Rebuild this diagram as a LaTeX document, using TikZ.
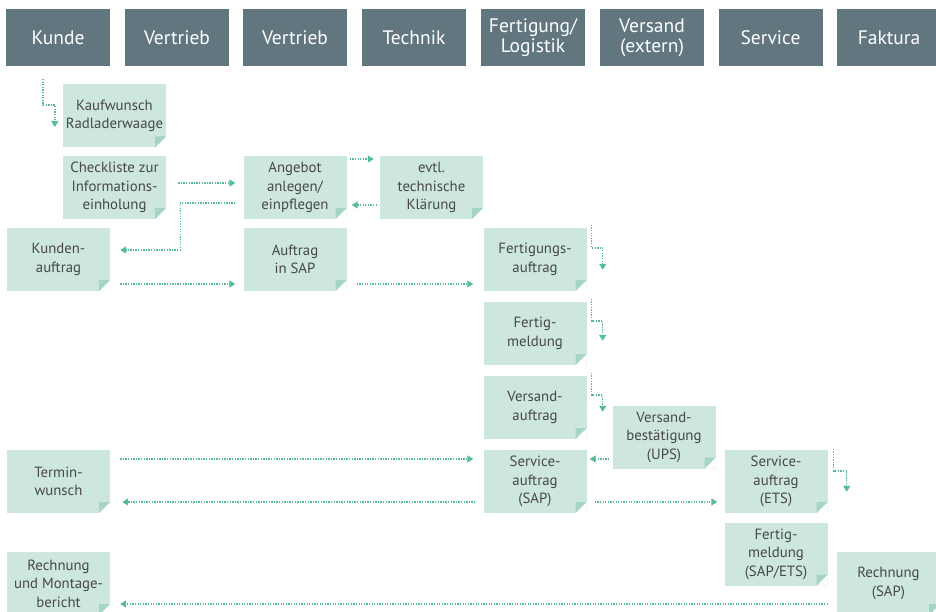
\documentclass[tikz,border=0pt]{standalone}
\usepackage{fontspec}
\setmainfont{PT Sans}
\usetikzlibrary{arrows.meta,calc}
\definecolor{headc}{HTML}{61767F}
\definecolor{boxc}{HTML}{CDE7DF}
\definecolor{foldc}{HTML}{A6D4C6}
\definecolor{flowc}{HTML}{55BB9F}
\definecolor{txtc}{HTML}{484848}
\begin{document}
\begin{tikzpicture}[x=1pt,y=-1pt,
 head/.style={fill=headc, text=white, minimum width=104pt, minimum height=57pt, inner sep=0pt, align=center, font=\fontsize{19.5}{20}\selectfont},
 note/.style={fill=boxc, text=txtc, minimum width=103pt, minimum height=63pt, inner sep=0pt, align=center, font=\fontsize{14.8}{18.5}\selectfont,
   path picture={
     \coordinate (pse) at (path picture bounding box.south east);
     \fill[white] ($(pse)+(-11pt,0pt)$) -- (pse) -- ($(pse)+(0pt,11pt)$) -- cycle;
     \fill[foldc] ($(pse)+(-11pt,0pt)$) -- ($(pse)+(-11pt,11pt)$) -- ($(pse)+(0pt,11pt)$) -- cycle;}},
 flow/.style={draw=flowc, line width=1.4pt, dash pattern=on 1.3pt off 1.3pt, -{Triangle[length=6pt,width=7pt]}}]
\useasboundingbox (0,0) rectangle (936,612);
\fill[white] (0,0) rectangle (936,612);
% headers
\node[head] (h1) at (58,37.5) {Kunde};
\node[head] (h2) at (177,37.5) {Vertrieb};
\node[head] (h3) at (295,37.5) {Vertrieb};
\node[head] (h4) at (414,37.5) {Technik};
\node[head] (h5) at (533,37.5) {Fertigung/\\Logistik};
\node[head] (h6) at (652,37.5) {Versand\\(extern)};
\node[head] (h7) at (770.5,37.5) {Service};
\node[head] (h8) at (889,37.5) {Faktura};
% notes
\node[note] (kauf) at (114.5,116) {Kaufwunsch\\Radladerwaage};
\node[note] (check) at (114.5,187.5) {Checkliste zur\\Informations-\\einholung};
\node[note] (kunden) at (58.5,259.5) {Kunden-\\auftrag};
\node[note] (angebot) at (295,187.5) {Angebot\\anlegen/\\einpflegen};
\node[note] (evtl) at (431.5,187.5) {evtl.\\technische\\Klärung};
\node[note] (auftrag) at (295,259.5) {Auftrag\\in SAP};
\node[note] (fertA) at (535,259.5) {Fertigungs-\\auftrag};
\node[note] (fertM) at (535,333.5) {Fertig-\\meldung};
\node[note] (versA) at (535,407.5) {Versand-\\auftrag};
\node[note] (versB) at (664,437) {Versand-\\bestätigung\\(UPS)};
\node[note] (servSAP) at (535,481.5) {Service-\\auftrag\\(SAP)};
\node[note] (servETS) at (776,481.5) {Service-\\auftrag\\(ETS)};
\node[note] (fertSE) at (776,554) {Fertig-\\meldung\\(SAP/ETS)};
\node[note] (termin) at (58.5,481.5) {Termin-\\wunsch};
\node[note] (rechM) at (58.5,583.5) {Rechnung\\und Montage-\\bericht};
\node[note] (rechS) at (888.5,583.5) {Rechnung\\(SAP)};
% connectors
\coordinate (s0) at (43,79);
\draw[flow] (s0) |- ([xshift=-8pt,yshift=11pt]kauf.west) -- ++(0,22);
\draw[flow] ([xshift=12pt,yshift=4.5pt]check.east) -- ([xshift=-8pt,yshift=4.5pt]angebot.west);
\draw[flow] ([xshift=-8pt,yshift=-15.5pt]angebot.west) -- ++(-55pt,0) |- ([xshift=10pt,yshift=9.5pt]kunden.east);
\draw[flow] ([xshift=10pt,yshift=-24.5pt]kunden.east) -- ([xshift=-8pt,yshift=-24.5pt]auftrag.west);
\draw[flow] ([xshift=3pt,yshift=28.5pt]angebot.east) -- ([xshift=-6pt,yshift=28.5pt]evtl.west);
\draw[flow] ([xshift=-3pt,yshift=-17.5pt]evtl.west) -- ([xshift=5pt,yshift=-17.5pt]angebot.east);
\draw[flow] ([xshift=10pt,yshift=-24.5pt]auftrag.east) -- ([xshift=-10pt,yshift=-24.5pt]fertA.west);
\draw[flow] ([xshift=5pt,yshift=3pt]fertA.north east) -- ++(0,23) -- ++(11,0) -- ++(0,22);
\draw[flow] ([xshift=5pt,yshift=3pt]fertM.north east) -- ++(0,22) -- ++(11,0) -- ++(0,20);
\draw[flow] ([xshift=5pt,yshift=3pt]versA.north east) -- ++(0,22) -- ++(11,0) -- ++(0,17);
\draw[flow] ([xshift=-3pt,yshift=-22pt]versB.west) -- ([xshift=3pt,yshift=22.5pt]servSAP.east);
\draw[flow] ([xshift=10pt,yshift=22.5pt]termin.east) -- ([xshift=-10pt,yshift=22.5pt]servSAP.west);
\draw[flow] ([xshift=-8pt,yshift=-20.5pt]servSAP.west) -- ([xshift=12pt,yshift=-20.5pt]termin.east);
\draw[flow] ([xshift=8pt,yshift=-20.5pt]servSAP.east) -- ([xshift=-7pt,yshift=-20.5pt]servETS.west);
\draw[flow] ([xshift=6pt,yshift=1pt]servETS.north east) -- ++(0,22) -- ++(13,0) -- ++(0,21);
\draw[flow] ([xshift=-9pt,yshift=-20.5pt]rechS.west) -- ([xshift=10pt,yshift=-20.5pt]rechM.east);
\end{tikzpicture}
\end{document}
